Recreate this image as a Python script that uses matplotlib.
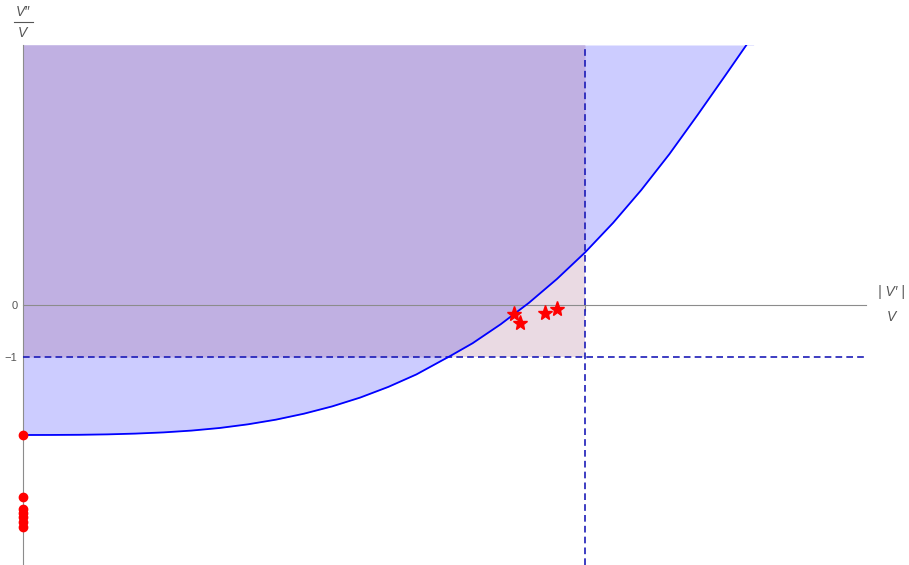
import matplotlib.pyplot as plt
from matplotlib.lines import Line2D

# bound curve (x = |V'|/V, y = V''/V)
curve_x = [0.0, 0.05, 0.10, 0.15, 0.20, 0.25, 0.30, 0.35, 0.40, 0.45,
           0.50, 0.55, 0.60, 0.65, 0.70, 0.75, 0.757, 0.80, 0.85, 0.90,
           0.95, 1.00, 1.05, 1.10, 1.15, 1.20, 1.25, 1.30]
curve_y = [-2.500, -2.499, -2.496, -2.488, -2.473, -2.450, -2.415, -2.365,
           -2.295, -2.205, -2.090, -1.950, -1.780, -1.575, -1.335, -1.040,
           -1.000, -0.735, -0.370, 0.040, 0.500, 1.010, 1.580, 2.210,
           2.900, 3.650, 4.420, 5.200]

# models (stars) and points on the V''/V axis
star_x = [0.874, 0.884, 0.928, 0.950]
star_y = [-0.17, -0.34, -0.16, -0.08]
dot_y = [-2.5, -3.70, -3.92, -4.0, -4.08, -4.17, -4.27]

c_bound = 1.0     # vertical dashed line
c2_bound = -1.0   # horizontal dashed line

blue = "#ccccff"
purple = "#c0b0e2"
pink = "#eadae3"
gray = "#8c8c8c"
dash_col = "#1c1cb8"

fig = plt.figure(figsize=(9.09, 5.65), dpi=100)
ax = fig.add_axes([23 / 909, 0.0, 843 / 909, 520 / 565])
ax.set_xlim(0, 1.5)
ax.set_ylim(-5, 5)

# pink rectangle, blue region above the curve, purple overlap
ax.fill_between([0, c_bound], c2_bound, 5, color=pink, lw=0, zorder=1)
ax.fill_between(curve_x, curve_y, 5, color=blue, lw=0, zorder=2)
ov_x = [x for x in curve_x if x <= c_bound]
ov_y = [max(y, c2_bound) for x, y in zip(curve_x, curve_y) if x <= c_bound]
ax.fill_between(ov_x, ov_y, 5, color=purple, lw=0, zorder=3)

# axes
for s in ["top", "right"]:
    ax.spines[s].set_visible(False)
ax.spines["bottom"].set_position(("data", 0))
ax.spines["left"].set_color(gray)
ax.spines["bottom"].set_color(gray)
ax.spines["left"].set_zorder(4)
ax.spines["bottom"].set_zorder(4)
ax.set_xticks([1])
ax.set_xticklabels([""])
ax.set_yticks([-1, 0])
ax.set_yticklabels(["\u22121", "0"])
ax.tick_params(axis="x", direction="out", length=4, color=gray)
ax.tick_params(axis="y", direction="in", length=4, color=gray,
               labelcolor="#555555", labelsize=8, pad=4)
for lab in ax.get_yticklabels():
    lab.set_family("Liberation Sans")

# dashed bounds
ax.axhline(c2_bound, color=dash_col, lw=1.2, ls=(0, (4, 2.5)), zorder=5)
ax.axvline(c_bound, color=dash_col, lw=1.2, ls=(0, (4, 2.5)), zorder=5)

# curve
ax.plot(curve_x, curve_y, color="blue", lw=1.3, zorder=6)

# markers
ax.plot([0] * len(dot_y), dot_y, "o", color="red", ms=6, clip_on=False, zorder=7)
ax.plot(star_x, star_y, "*", color="red", ms=11, zorder=7)

# axis labels as fractions
lab_kw = dict(color="#555555", fontsize=10, style="italic",
              family="Liberation Sans", ha="center", va="center")
fig.text(23 / 909, 1 - 11.5 / 565, "V\u2033", **lab_kw)
fig.text(22 / 909, 1 - 33 / 565, "V", **lab_kw)
fig.add_artist(Line2D([14 / 909, 33 / 909], [1 - 22 / 565] * 2,
                      color="#555555", lw=0.8))
fig.text(891 / 909, 1 - 292 / 565, "| V\u2032 |", **lab_kw)
fig.text(891 / 909, 1 - 317 / 565, "V", **lab_kw)

fig.savefig("out.png", dpi=100)
